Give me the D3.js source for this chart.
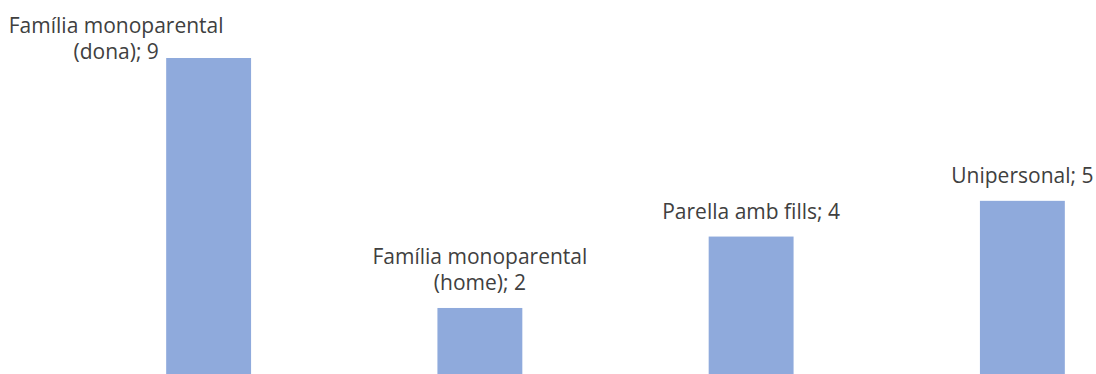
<!DOCTYPE html>
<html>
<head>
<meta charset="utf-8">
<script src="https://cdn.jsdelivr.net/npm/d3@7"></script>
<style>
  body { margin: 0; background: #fff; }
  svg { display: block; }
</style>
</head>
<body>
<div id="chart"></div>
<script>
// data
const categories = ['Família monoparental (dona)', 'Família monoparental (home)', 'Parella amb fills', 'Unipersonal'];
const values = [9, 2, 4, 5];
const labelLines = [
    ['Família monoparental', '(dona); 9'],
    ['Família monoparental', '(home); 2'],
    ['Parella amb fills; 4'],
    ['Unipersonal; 5']
];

let elWidth = 1096;
let elHeight = 374;

let svg = d3.select('#chart').append('svg')
    .attr('width', elWidth)
    .attr('height', elHeight);

// plot area runs past the bottom/right edge like the cropped original
let x = d3.scaleBand()
    .domain(categories)
    .range([73, 1158])
    .paddingInner(0.687)
    .paddingOuter(0.3435);

let y = d3.scaleLinear()
    .domain([0, 9])
    .range([379.4, 58]);

let data = categories.map(function(c, i) {
    return {cat: c, value: values[i], lines: labelLines[i]};
});

svg.append('g')
    .selectAll('rect')
    .data(data)
    .enter().append('rect')
    .attr('x', d => x(d.cat))
    .attr('y', d => y(d.value))
    .attr('width', x.bandwidth())
    .attr('height', d => y(0) - y(d.value))
    .attr('fill', '#8FAADC');

let lineH = 26;
let labels = svg.append('g')
    .attr('font-family', 'Open Sans, sans-serif')
    .attr('font-size', 21)
    .attr('fill', '#404040')
    .selectAll('text')
    .data(data)
    .enter().append('text')
    .attr('text-anchor', 'middle')
    .attr('transform', function(d, i) {
        let tx, ty;
        if (i === 0) {
            // first label was pushed left of its bar
            tx = x(d.cat) - 50;
            ty = y(d.value) + 1;
        } else {
            tx = x(d.cat) + x.bandwidth() / 2;
            ty = y(d.value) - 18;
        }
        return 'translate(' + tx + ',' + ty + ')';
    });

labels.selectAll('tspan')
    .data(d => d.lines.map((l, k) => ({text: l, k: k, n: d.lines.length})))
    .enter().append('tspan')
    .attr('x', 0)
    .attr('y', t => -(t.n - 1 - t.k) * lineH)
    .text(t => t.text);
</script>
</body>
</html>
